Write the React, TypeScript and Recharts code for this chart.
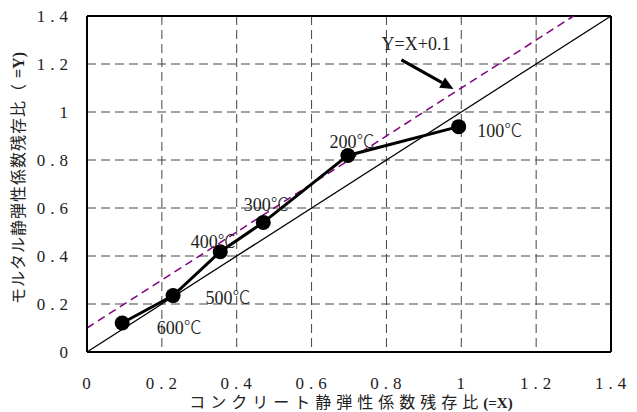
import { ScatterChart, Scatter, XAxis, YAxis, CartesianGrid, ReferenceLine } from 'recharts';

// 加熱温度ごとの残存比
const temps = ['600℃', '500℃', '400℃', '300℃', '200℃', '100℃'];
const concreteRatio = [0.094, 0.23, 0.356, 0.471, 0.697, 0.993];
const mortarRatio = [0.121, 0.235, 0.418, 0.54, 0.819, 0.939];
const axisTicks = [0, 0.2, 0.4, 0.6, 0.8, 1, 1.2, 1.4];

const points = temps.map((t, i) => ({ x: concreteRatio[i], y: mortarRatio[i], temp: t }));

// 温度ラベルの位置（マーカー中心からのずれ, px）
const labelOffset: Record<string, [number, number]> = {
    '600℃': [57, 5],
    '500℃': [55, 2],
    '400℃': [-7, -10],
    '300℃': [3, -17],
    '200℃': [4, -13],
    '100℃': [41, 4],
};

const SERIF = "'Liberation Serif', 'DejaVu Serif', 'Noto Sans CJK JP', serif";
const CJK = "'Noto Sans CJK JP', sans-serif";

const fmt = (v: number) => String(v);

const XTick = (p: any) => (
    <text x={p.x + 2} y={p.y + 35} textAnchor="middle" fontFamily={SERIF} fontSize={17} letterSpacing={5} fill="#222">
        {fmt(p.payload.value)}
    </text>
);

const YTick = (p: any) => (
    <text x={p.x - 12} y={p.y + 6} textAnchor="end" fontFamily={SERIF} fontSize={17} letterSpacing={5} fill="#222">
        {fmt(p.payload.value)}
    </text>
);

const Marker = (p: any) => {
    const [dx, dy] = labelOffset[p.payload.temp] || [0, 0];
    const t: string = p.payload.temp;
    return (
        <g>
            <circle cx={p.cx} cy={p.cy} r={7.5} fill="#000" />
            <text x={p.cx + dx} y={p.cy + dy + 6} textAnchor="middle" fontFamily={SERIF} fontSize={18} fill="#222">
                {t.slice(0, -1)}
                <tspan fontFamily={CJK} fontWeight={300}>{t.slice(-1)}</tspan>
            </text>
        </g>
    );
};

const Arrow = (p: any) => {
    const { x1, y1, x2, y2 } = p;
    const a = Math.atan2(y2 - y1, x2 - x1);
    const len = 13, half = 6;
    const bx = x2 - len * Math.cos(a), by = y2 - len * Math.sin(a);
    const nx = -Math.sin(a) * half, ny = Math.cos(a) * half;
    return (
        <g>
            <line x1={x1} y1={y1} x2={bx} y2={by} stroke="#000" strokeWidth={3} />
            <polygon points={`${x2},${y2} ${bx + nx},${by + ny} ${bx - nx},${by - ny}`} fill="#000" />
        </g>
    );
};

export default function App() {
    return (
        <div style={{ position: 'absolute', left: 0, top: 0, background: '#fff' }}>
            <ScatterChart width={637} height={412} margin={{ top: 16, right: 26, left: 0, bottom: 0 }}>
                <CartesianGrid stroke="#444" strokeDasharray="9 5" />
                <XAxis
                    type="number"
                    dataKey="x"
                    domain={[0, 1.4]}
                    ticks={axisTicks}
                    height={60}
                    tickLine={false}
                    tickSize={0}
                    axisLine={{ stroke: '#000', strokeWidth: 2 }}
                    tick={<XTick />}
                    interval={0}
                />
                <YAxis
                    type="number"
                    dataKey="y"
                    domain={[0, 1.4]}
                    ticks={axisTicks}
                    width={87}
                    tickLine={false}
                    tickSize={0}
                    axisLine={{ stroke: '#000', strokeWidth: 2 }}
                    tick={<YTick />}
                    interval={0}
                />
                <ReferenceLine segment={[{ x: 0, y: 1.4 }, { x: 1.4, y: 1.4 }]} stroke="#000" strokeWidth={2} />
                <ReferenceLine segment={[{ x: 1.4, y: 0 }, { x: 1.4, y: 1.4 }]} stroke="#000" strokeWidth={2} />
                <ReferenceLine segment={[{ x: 0, y: 0 }, { x: 1.4, y: 1.4 }]} stroke="#000" strokeWidth={1.3} />
                <ReferenceLine segment={[{ x: 0, y: 0.1 }, { x: 1.3, y: 1.4 }]} stroke="#800080" strokeWidth={1.5} strokeDasharray="8 5" />
                <ReferenceLine segment={[{ x: 0.84, y: 1.217 }, { x: 0.979, y: 1.096 }]} shape={<Arrow />} />
                <Scatter
                    data={points}
                    line={{ stroke: '#000', strokeWidth: 3 }}
                    shape={<Marker />}
                    isAnimationActive={false}
                />
                <text x={416} y={50} textAnchor="middle" fontFamily={SERIF} fontSize={18} fill="#222">Y=X+0.1</text>
                <text
                    transform="translate(24,178) rotate(-90)"
                    textAnchor="middle"
                    fontFamily={SERIF}
                    fontSize={16}
                    fill="#222"
                >
                    <tspan letterSpacing={1}>モルタル静弾性係数残存比（ </tspan>
                    <tspan fontWeight="bold">=Y)</tspan>
                </text>
                <text x={351} y={408} textAnchor="middle" fontFamily={SERIF} fontSize={16} fill="#222">
                    <tspan letterSpacing={5}>コンクリート静弾性係数残存比</tspan>
                    <tspan fontWeight="bold" fontSize={15}>(=X)</tspan>
                </text>
            </ScatterChart>
        </div>
    );
}
